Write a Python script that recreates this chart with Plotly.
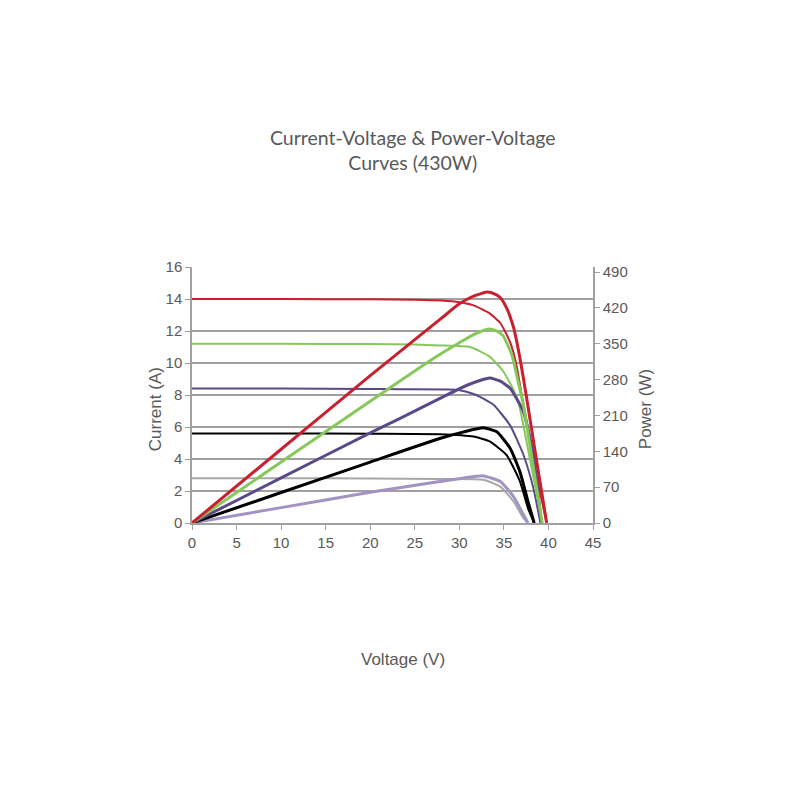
import plotly.graph_objects as go

# I-V curves (thin lines, left axis)
v_iv_red = [0, 10, 20, 25, 28, 30, 31.6, 33.4, 34.6, 35.7, 36.4, 37.0, 37.9, 38.8, 39.8]
i_red = [14.0, 14.0, 13.98, 13.95, 13.9, 13.8, 13.6, 13.1, 12.5, 11.3, 9.9, 8.0, 5.3, 2.6, 0]

v_iv_green = [0, 10, 20, 25, 27.8, 31.2, 33.4, 34.9, 36.1, 36.7, 37.5, 38.4, 39.3]
i_green = [11.2, 11.2, 11.18, 11.15, 11.1, 11.0, 10.4, 9.5, 8.3, 7.4, 5.2, 2.6, 0]

v_iv_purple = [0, 10, 20, 23.3, 29.7, 30.8, 31.9, 33.8, 35.7, 37.2, 38.3, 39.1]
i_purple = [8.4, 8.4, 8.38, 8.36, 8.33, 8.2, 8.0, 7.4, 6.1, 4.25, 2.2, 0]

v_iv_black = [0, 10, 20, 27.8, 31.6, 33.4, 35.3, 36.8, 37.7, 38.4]
i_black = [5.6, 5.6, 5.58, 5.55, 5.4, 5.1, 4.25, 2.6, 0.93, 0]

v_iv_gray = [0, 10, 20, 27.8, 32.7, 34.6, 36.1, 37.2, 37.7]
i_gray = [2.8, 2.8, 2.78, 2.75, 2.7, 2.27, 1.33, 0.3, 0]

# P-V curves (thick lines, right axis)
v_pv_red = [0, 10, 20, 25, 28, 30, 31.6, 33.1, 34.0, 34.6, 35.3, 36.1, 36.8, 37.5, 38.5, 39.8]
p_red = [0, 144, 288, 358, 400, 428, 443, 451, 447, 440, 420, 381, 322, 250, 140, 0]

v_pv_green = [0, 10, 20, 25, 27.8, 30, 31.6, 33.3, 34.2, 34.9, 35.9, 36.6, 37.2, 38.2, 39.3]
p_green = [0, 119, 238, 297, 329, 352, 368, 379, 375, 366, 328, 276, 230, 120, 0]

v_pv_purple = [0, 10, 20, 23.3, 28, 31, 33.4, 34.6, 35.7, 37.2, 38.3, 39.2]
p_purple = [0, 88, 176, 204, 245, 270, 283, 277, 263, 217, 133, 0]

v_pv_black = [0, 10, 20, 27.8, 30.5, 32.7, 34.2, 35.7, 36.8, 37.7, 38.4]
p_black = [0, 59.5, 119, 165, 178, 186, 178, 146, 100, 42, 0]

v_pv_lav = [0, 10, 20, 27.8, 30.5, 32.7, 34.6, 36.1, 37.2, 37.7]
p_lav = [0, 30, 60, 81, 88, 92, 81, 51, 16, 0]

x_ticks = [0, 5, 10, 15, 20, 25, 30, 35, 40, 45]
y_ticks = [0, 2, 4, 6, 8, 10, 12, 14, 16]
y2_ticks = [0, 70, 140, 210, 280, 350, 420, 490]

grey = "#595959"
font_main = "Liberation Sans, Arial, sans-serif"

fig = go.Figure()

# draw from the weakest curve up so red ends on top
curves = [
    (v_iv_gray, i_gray, "#A6A6A6", 2, "y"),
    (v_pv_lav, p_lav, "#A193C2", 3, "y2"),
    (v_iv_black, i_black, "#000000", 2, "y"),
    (v_pv_black, p_black, "#000000", 3, "y2"),
    (v_iv_purple, i_purple, "#5C4A87", 2, "y"),
    (v_pv_purple, p_purple, "#5C4A87", 3, "y2"),
    (v_iv_green, i_green, "#86C85A", 2, "y"),
    (v_pv_green, p_green, "#86C85A", 3, "y2"),
    (v_iv_red, i_red, "#C8202F", 2, "y"),
    (v_pv_red, p_red, "#C8202F", 3, "y2"),
]
for xs, ys, col, w, ax in curves:
    fig.add_trace(go.Scatter(
        x=xs, y=ys, yaxis=ax, mode="lines",
        line=dict(color=col, width=w, shape="spline", smoothing=0.5),
        showlegend=False, hoverinfo="x+y",
    ))

axis_title_font = dict(family=font_main, size=17, color=grey)

fig.update_layout(
    width=800, height=800,
    paper_bgcolor="white", plot_bgcolor="white",
    margin=dict(l=184, r=215, t=259, b=285),
    font=dict(family=font_main, size=15, color=grey),
    title=dict(
        text="Current-Voltage & Power-Voltage<br>Curves (430W)",
        x=0.506, xanchor="center", y=0.829, yanchor="middle",
        font=dict(family="Lato, sans-serif", size=19.5, color=grey),
    ),
    xaxis=dict(
        range=[0, 45], tickvals=x_ticks, showgrid=False, zeroline=False,
        showline=True, linecolor="#A0A0A0", linewidth=1.5,
        ticks="outside", ticklen=5, tickcolor="#A0A0A0",
    ),
    yaxis=dict(
        range=[0, 16], tickvals=y_ticks, showgrid=True, gridcolor="#A0A0A0", gridwidth=1.5,
        zeroline=False, showline=True, linecolor="#A0A0A0", linewidth=1.5,
        ticks="outside", ticklen=5, tickcolor="#A0A0A0",
    ),
    yaxis2=dict(
        range=[0, 500], tickvals=y2_ticks, overlaying="y", side="right",
        showgrid=False, zeroline=False, showline=True, linecolor="#A0A0A0", linewidth=1.5,
        ticks="outside", ticklen=5, tickcolor="#A0A0A0",
    ),
    annotations=[
        dict(text="Voltage (V)", xref="paper", yref="paper", x=0.526, y=-0.535,
             showarrow=False, xanchor="center", yanchor="middle", font=axis_title_font),
        dict(text="Current (A)", xref="paper", yref="paper", x=-0.092, y=0.445,
             showarrow=False, xanchor="center", yanchor="middle", textangle=-90,
             font=axis_title_font),
        dict(text="Power (W)", xref="paper", yref="paper", x=1.13, y=0.445,
             showarrow=False, xanchor="center", yanchor="middle", textangle=-90,
             font=axis_title_font),
    ],
)

fig.write_html("out.html")
